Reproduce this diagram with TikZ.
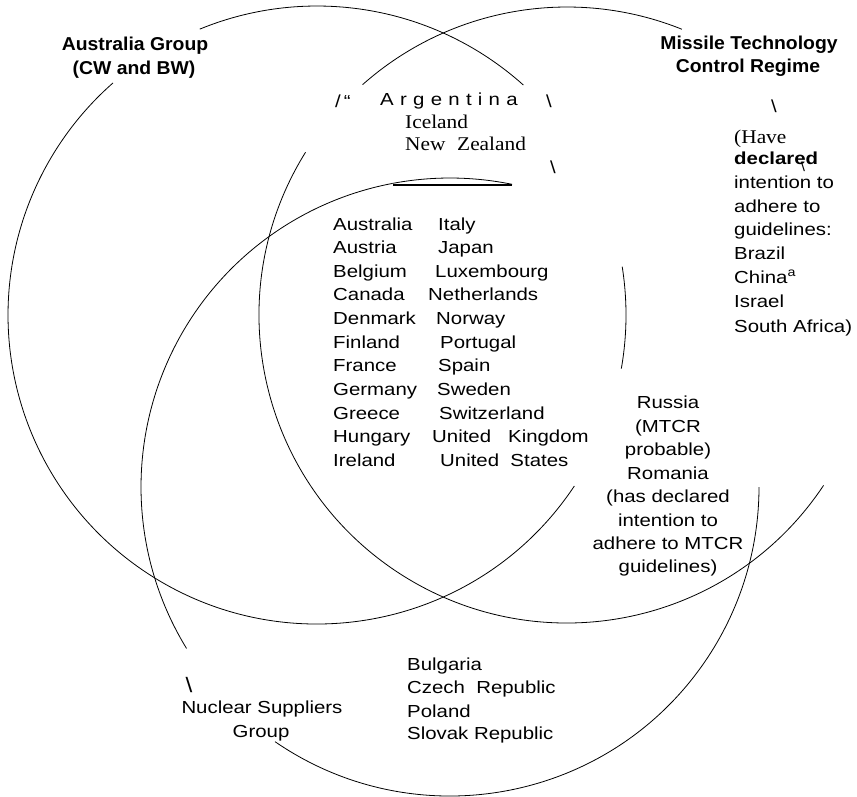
\documentclass[tikz,border=0pt]{standalone}
\usepackage{fontspec}
\setmainfont{Liberation Sans}
\newfontfamily\listfont[FakeStretch=1.17]{Liberation Sans}
\newfontfamily\spacedfont[FakeStretch=1.17,LetterSpace=36]{Liberation Sans}
\newfontfamily\headfont[FakeStretch=1.04]{Liberation Sans}
\newfontfamily\romfont[FakeStretch=1.1]{Liberation Serif}

\tikzset{
  ring/.style={line width=0.8bp},
  entry/.style={anchor=base west, inner sep=0pt, font=\listfont\fontsize{17.5}{20}\selectfont},
  centry/.style={entry, anchor=base},
  romentry/.style={entry, font=\romfont\fontsize{19.5}{22}\selectfont},
  head/.style={anchor=base, inner sep=0pt, font=\headfont\bfseries\fontsize{18.7}{22}\selectfont},
  tick/.style={entry, anchor=base},
}

\begin{document}
\begin{tikzpicture}[x=1bp, y=-1bp]
\useasboundingbox (0,0) rectangle (857,797);

% circle centres
\coordinate (ag) at (317,315);
\coordinate (mtcr) at (567,315);
\coordinate (nsg) at (450,487);

% Australia Group
\draw[ring] (ag) ++(33.6:309) arc[start angle=33.6, end angle=228.7, radius=309];
\draw[ring] (ag) ++(-112.3:309) arc[start angle=-112.3, end angle=-48.1, radius=309];
\draw[ring] (ag) ++(-9:309) arc[start angle=-9, end angle=10, radius=309];

% MTCR
\draw[ring] (mtcr) ++(-131.6:308) arc[start angle=-131.6, end angle=-68.1, radius=308];
\draw[ring] (mtcr) ++(211.9:308) arc[start angle=211.9, end angle=33.6, radius=308];

% Nuclear Suppliers Group
\draw[ring] (nsg) ++(259.3:309) arc[start angle=259.3, end angle=148.5, radius=309];
\draw[ring] (nsg) ++(259.3:309) arc[start angle=259.3, end angle=281.6, radius=309];
\draw[ring] (nsg) ++(124.5:309) arc[start angle=124.5, end angle=0, radius=309];
\draw[line width=2.5bp] (393,185) -- (512,185);

% group names
\node[head] (aghead1) at (135,51) {Australia Group};
\node[head] (aghead2) at (134,75) {(CW and BW)};
\node[head] (mthead1) at (749,50) {Missile Technology};
\node[head] (mthead2) at (748,73) {Control Regime};
\node[centry] (nshead1) at (262,713) {Nuclear Suppliers};
\node[centry] (nshead2) at (261,737) {Group};

% stray strokes
\node[entry] (mark1) at (335,107) {/\,“};
\node[tick] (mark2) at (549,107) {\textbackslash};
\node[tick] (mark3) at (553,173) {\textbackslash};
\node[tick] (mark4) at (774,112) {\textbackslash};
\node[tick, font=\listfont\fontsize{13}{13}\selectfont] (mark5) at (803,171) {\textbackslash};
\node[tick, font=\listfont\fontsize{21}{21}\selectfont] (mark6) at (189,692) {\textbackslash};

% MTCR only
\node[entry, font=\spacedfont\fontsize{17.5}{20}\selectfont] (arg) at (380,105) {Argentina};
\node[romentry] (ice) at (405,128) {Iceland};
\node[romentry] (nz) at (405,150) {New\hspace{0.6em}Zealand};

% all three
\foreach \lname/\rname/\rx [count=\i] in {
    Australia/Italy/438, Austria/Japan/438, Belgium/Luxembourg/435,
    Canada/Netherlands/428, Denmark/Norway/436, Finland/Portugal/440,
    France/Spain/438, Germany/Sweden/437, Greece/Switzerland/439,
    Hungary/{United\ \ \ Kingdom}/432, Ireland/{United\ \ States}/440} {
  \node[entry] (all-l-\i) at (333,{230+23.65*(\i-1)}) {\lname};
  \node[entry] (all-r-\i) at (\rx,{230+23.65*(\i-1)}) {\rname};
}

% adherents
\node[romentry] (adh-1) at (734,143) {(Have};
\node[entry] (adh-2) at (734,164) {\bfseries declared};
\foreach \txt/\yy [count=\i from 3] in {intention to/188, adhere to/212,
    guidelines:/235, Brazil/259, China\textsuperscript{a}/283, Israel/307,
    South Africa)/332}
  \node[entry] (adh-\i) at (734,\yy) {\txt};

% Russia, Romania
\foreach \txt/\yy [count=\i] in {Russia/408, {(MTCR}/432, probable)/455,
    Romania/479, {(has declared}/502, intention to/526, adhere to MTCR/549,
    guidelines)/572}
  \node[centry] (rr-\i) at (668,\yy) {\txt};

% NSG and Australia Group
\foreach \txt/\yy [count=\i] in {Bulgaria/670, Czech\ \ Republic/693,
    Poland/717, Slovak Republic/739}
  \node[entry] (nsa-\i) at (407,\yy) {\txt};

\end{tikzpicture}
\end{document}
